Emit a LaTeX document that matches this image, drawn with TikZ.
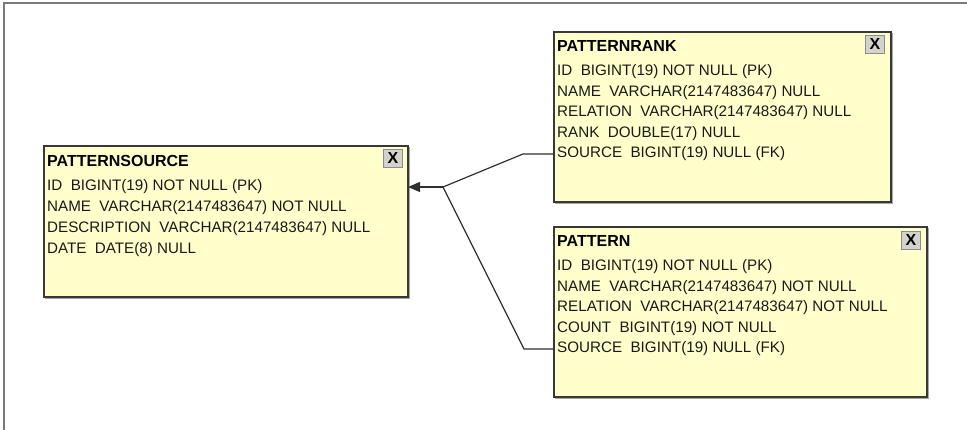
\documentclass[tikz,border=0pt]{standalone}
\usepackage{fontspec}
\setmainfont{Liberation Sans}
\usetikzlibrary{arrows.meta,calc}
\definecolor{tablefill}{HTML}{FFFFCC}
\definecolor{tableedge}{HTML}{383838}
\definecolor{tableshade}{HTML}{A8A8A0}
\definecolor{framecol}{HTML}{7A7A7A}
\definecolor{btnfill}{HTML}{D4D2CC}
\definecolor{btnedge}{HTML}{8C8C8C}
\definecolor{linkcol}{HTML}{303030}
\newcommand{\gapsp}{\hspace{0.55em}}
\tikzset{
  tablebox/.style={draw=tableedge, fill=tablefill, line width=1.3pt, anchor=north west,
    inner sep=0pt, outer sep=0pt},
  tabletitle/.style={anchor=west, inner xsep=3pt, inner ysep=0pt, font=\fontsize{16}{18}\selectfont\bfseries},
  tablerow/.style={anchor=west, inner xsep=3pt, inner ysep=0pt, font=\fontsize{15.2}{17}\selectfont, text=black!90},
  closebtn/.style={draw=btnedge, fill=btnfill, line width=0.9pt, minimum width=19pt, minimum height=18pt,
    inner sep=0pt, anchor=north east, font=\fontsize{16}{16}\selectfont\bfseries},
  link/.style={draw=linkcol, line width=1.2pt},
}
\begin{document}
\begin{tikzpicture}[x=1pt,y=-1pt]
\useasboundingbox (0,0) rectangle (967,430);
% outer frame (top and left only)
\draw[framecol, line width=2pt] (4,431) -- (4,3) -- (968,3);

% ---- PATTERNSOURCE ----
\fill[tableshade] (45,147) rectangle (410,299);
\node[tablebox, minimum width=364pt, minimum height=151pt] (ps) at (44,146) {};
\node[closebtn] (psx) at ($(ps.north east)+(-5,3)$) {X};
\node[tabletitle] (pst) at ($(ps.north west)+(0,15)$) {PATTERNSOURCE};
\node[tablerow] (ps1) at ($(ps.north west)+(0,41)$) {ID\gapsp BIGINT(19) NOT NULL (PK)};
\node[tablerow] (ps2) at ($(ps.north west)+(0,62)$) {NAME\gapsp VARCHAR(2147483647) NOT NULL};
\node[tablerow] (ps3) at ($(ps.north west)+(0,83)$) {DESCRIPTION\gapsp VARCHAR(2147483647) NULL};
\node[tablerow] (ps4) at ($(ps.north west)+(0,104)$) {DATE\gapsp DATE(8) NULL};

% ---- PATTERNRANK ----
\fill[tableshade] (555,33) rectangle (893,204);
\node[tablebox, minimum width=337pt, minimum height=170pt] (prk) at (554,32) {};
\node[closebtn] (prkx) at ($(prk.north east)+(-6,3)$) {X};
\node[tabletitle] (prkt) at ($(prk.north west)+(0,14)$) {PATTERNRANK};
\node[tablerow] (prk1) at ($(prk.north west)+(0,40)$) {ID\gapsp BIGINT(19) NOT NULL (PK)};
\node[tablerow] (prk2) at ($(prk.north west)+(0,61)$) {NAME\gapsp VARCHAR(2147483647) NULL};
\node[tablerow] (prk3) at ($(prk.north west)+(0,81)$) {RELATION\gapsp VARCHAR(2147483647) NULL};
\node[tablerow] (prk4) at ($(prk.north west)+(0,102)$) {RANK\gapsp DOUBLE(17) NULL};
\node[tablerow] (prk5) at ($(prk.north west)+(0,122)$) {SOURCE\gapsp BIGINT(19) NULL (FK)};

% ---- PATTERN ----
\fill[tableshade] (555,228) rectangle (929,399);
\node[tablebox, minimum width=373pt, minimum height=170pt] (pat) at (554,227) {};
\node[closebtn] (patx) at ($(pat.north east)+(-6,4)$) {X};
\node[tabletitle] (patt) at ($(pat.north west)+(0,14)$) {PATTERN};
\node[tablerow] (pat1) at ($(pat.north west)+(0,40)$) {ID\gapsp BIGINT(19) NOT NULL (PK)};
\node[tablerow] (pat2) at ($(pat.north west)+(0,61)$) {NAME\gapsp VARCHAR(2147483647) NOT NULL};
\node[tablerow] (pat3) at ($(pat.north west)+(0,81)$) {RELATION\gapsp VARCHAR(2147483647) NOT NULL};
\node[tablerow] (pat4) at ($(pat.north west)+(0,102)$) {COUNT\gapsp BIGINT(19) NOT NULL};
\node[tablerow] (pat5) at ($(pat.north west)+(0,122)$) {SOURCE\gapsp BIGINT(19) NULL (FK)};

% ---- foreign key links ----
\coordinate (psin) at (ps.north east |- 0,187);
\coordinate (hub) at (443,187);
\coordinate (prkbend) at (523,154);
\coordinate (patbend) at (524,349);
\draw[link] (prk5.west) -- (prkbend) -- (hub);
\draw[link] (pat5.west) -- (patbend) -- (hub);
\draw[link, -{Triangle[length=12pt,width=10pt]}] (hub) -- (psin);
\end{tikzpicture}
\end{document}
